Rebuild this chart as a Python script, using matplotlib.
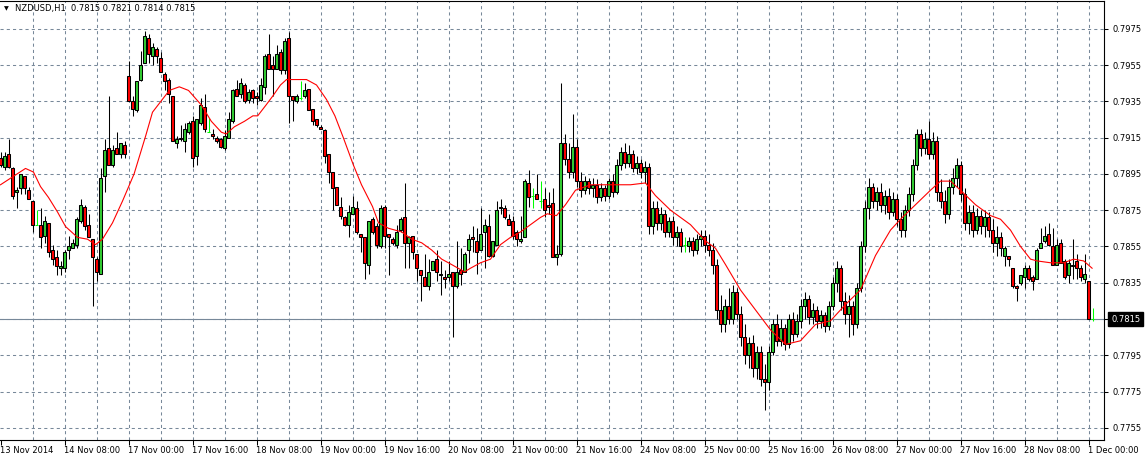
import matplotlib
matplotlib.use("Agg")
import matplotlib.pyplot as plt
import matplotlib.transforms as mtransforms
import numpy as np

# NZDUSD H1, one value per hourly bar (13 Nov 16:00 .. 1 Dec 01:00)
opens = [
    0.7904, 0.7899, 0.7906, 0.7898, 0.7885, 0.7887, 0.7894, 0.7886, 0.7880, 0.7867,
    0.7867, 0.7861, 0.7868, 0.7853, 0.7849, 0.7843, 0.7843, 0.7853, 0.7854, 0.7856,
    0.7869, 0.7877, 0.7867, 0.7859, 0.7848, 0.7840, 0.7894, 0.7909, 0.7900, 0.7909,
    0.7906, 0.7911, 0.7949, 0.7935, 0.7930, 0.7947, 0.7956, 0.7970, 0.7960, 0.7964,
    0.7959, 0.7950, 0.7947, 0.7938, 0.7912, 0.7915, 0.7913, 0.7918, 0.7924, 0.7905,
    0.7923, 0.7932, 0.7918, 0.7917, 0.7915, 0.7914, 0.7909, 0.7915, 0.7924, 0.7942,
    0.7939, 0.7944, 0.7936, 0.7941, 0.7938, 0.7936, 0.7943, 0.7961, 0.7955, 0.7953,
    0.7962, 0.7952, 0.7970, 0.7938, 0.7935, 0.7937, 0.7938, 0.7942, 0.7931, 0.7925,
    0.7921, 0.7919, 0.7906, 0.7896, 0.7888, 0.7877, 0.7871, 0.7867, 0.7873, 0.7876,
    0.7862, 0.7860, 0.7845, 0.7870, 0.7866, 0.7855, 0.7877, 0.7862, 0.7859, 0.7856,
    0.7864, 0.7871, 0.7857, 0.7861, 0.7851, 0.7842, 0.7838, 0.7833, 0.7842, 0.7848,
    0.7839, 0.7838, 0.7838, 0.7841, 0.7833, 0.7842, 0.7841, 0.7853, 0.7860, 0.7858,
    0.7853, 0.7863, 0.7866, 0.7850, 0.7856, 0.7876, 0.7876, 0.7870, 0.7869, 0.7863,
    0.7858, 0.7860, 0.7890, 0.7883, 0.7884, 0.7880, 0.7881, 0.7878, 0.7879, 0.7849,
    0.7851, 0.7912, 0.7903, 0.7896, 0.7910, 0.7891, 0.7886, 0.7891, 0.7887, 0.7889,
    0.7882, 0.7887, 0.7883, 0.7891, 0.7885, 0.7900, 0.7907, 0.7901, 0.7906, 0.7898,
    0.7901, 0.7896, 0.7899, 0.7866, 0.7876, 0.7868, 0.7873, 0.7863, 0.7869, 0.7860,
    0.7863, 0.7856, 0.7855, 0.7858, 0.7853, 0.7859, 0.7861, 0.7856, 0.7853, 0.7845,
    0.7820, 0.7812, 0.7822, 0.7815, 0.7830, 0.7818, 0.7805, 0.7795, 0.7802, 0.7788,
    0.7797, 0.7782, 0.7780, 0.7797, 0.7812, 0.7803, 0.7810, 0.7801, 0.7815, 0.7807,
    0.7814, 0.7822, 0.7826, 0.7816, 0.7820, 0.7814, 0.7817, 0.7811, 0.7822, 0.7835,
    0.7843, 0.7825, 0.7818, 0.7822, 0.7812, 0.7832, 0.7855, 0.7876, 0.7888, 0.7880,
    0.7885, 0.7878, 0.7883, 0.7874, 0.7881, 0.7870, 0.7864, 0.7875, 0.7884, 0.7900,
    0.7917, 0.7909, 0.7914, 0.7906, 0.7913, 0.7885, 0.7880, 0.7873, 0.7888, 0.7893,
    0.7900, 0.7884, 0.7868, 0.7874, 0.7864, 0.7872, 0.7866, 0.7871, 0.7864, 0.7857,
    0.7860, 0.7850, 0.7850, 0.7843, 0.7833, 0.7835, 0.7838, 0.7843, 0.7838, 0.7837,
    0.7854, 0.7858, 0.7862, 0.7855, 0.7845, 0.7857, 0.7847, 0.7839, 0.7844, 0.7847,
    0.7843, 0.7837, 0.7836, 0.7815,
]
highs = [
    0.7907, 0.7907, 0.7914, 0.7899, 0.7888, 0.7895, 0.7894, 0.7888, 0.7880, 0.7875,
    0.7876, 0.7872, 0.7868, 0.7856, 0.7853, 0.7847, 0.7853, 0.7861, 0.7859, 0.7871,
    0.7881, 0.7878, 0.7873, 0.7859, 0.7849, 0.7898, 0.7914, 0.7938, 0.7911, 0.7918,
    0.7912, 0.7913, 0.7957, 0.7938, 0.7946, 0.7963, 0.7974, 0.7972, 0.7967, 0.7965,
    0.7962, 0.7951, 0.7948, 0.7938, 0.7916, 0.7922, 0.7923, 0.7924, 0.7927, 0.7925,
    0.7937, 0.7939, 0.7926, 0.7920, 0.7916, 0.7915, 0.7919, 0.7929, 0.7942, 0.7947,
    0.7948, 0.7945, 0.7942, 0.7942, 0.7940, 0.7948, 0.7961, 0.7972, 0.7960, 0.7966,
    0.7964, 0.7970, 0.7973, 0.7938, 0.7939, 0.7946, 0.7945, 0.7942, 0.7931, 0.7925,
    0.7922, 0.7920, 0.7906, 0.7896, 0.7888, 0.7882, 0.7872, 0.7878, 0.7883, 0.7880,
    0.7862, 0.7860, 0.7869, 0.7871, 0.7868, 0.7878, 0.7878, 0.7862, 0.7860, 0.7867,
    0.7871, 0.7890, 0.7861, 0.7861, 0.7851, 0.7842, 0.7851, 0.7848, 0.7847, 0.7853,
    0.7847, 0.7842, 0.7847, 0.7841, 0.7858, 0.7854, 0.7852, 0.7862, 0.7866, 0.7865,
    0.7876, 0.7870, 0.7873, 0.7858, 0.7880, 0.7881, 0.7878, 0.7873, 0.7872, 0.7864,
    0.7872, 0.7892, 0.7897, 0.7887, 0.7895, 0.7891, 0.7887, 0.7885, 0.7887, 0.7856,
    0.7945, 0.7917, 0.7912, 0.7928, 0.7914, 0.7896, 0.7894, 0.7893, 0.7893, 0.7892,
    0.7890, 0.7889, 0.7893, 0.7895, 0.7903, 0.7910, 0.7912, 0.7911, 0.7908, 0.7905,
    0.7903, 0.7902, 0.7901, 0.7880, 0.7880, 0.7877, 0.7875, 0.7871, 0.7872, 0.7866,
    0.7865, 0.7860, 0.7860, 0.7860, 0.7862, 0.7864, 0.7864, 0.7862, 0.7857, 0.7848,
    0.7828, 0.7826, 0.7832, 0.7834, 0.7832, 0.7822, 0.7812, 0.7805, 0.7806, 0.7800,
    0.7800, 0.7790, 0.7800, 0.7815, 0.7818, 0.7815, 0.7812, 0.7818, 0.7819, 0.7818,
    0.7826, 0.7830, 0.7828, 0.7824, 0.7822, 0.7820, 0.7819, 0.7825, 0.7838, 0.7847,
    0.7845, 0.7830, 0.7828, 0.7825, 0.7835, 0.7858, 0.7880, 0.7893, 0.7890, 0.7888,
    0.7890, 0.7886, 0.7887, 0.7885, 0.7884, 0.7874, 0.7878, 0.7888, 0.7903, 0.7920,
    0.7920, 0.7918, 0.7924, 0.7918, 0.7916, 0.7892, 0.7886, 0.7892, 0.7898, 0.7904,
    0.7902, 0.7887, 0.7878, 0.7878, 0.7876, 0.7875, 0.7875, 0.7874, 0.7870, 0.7866,
    0.7863, 0.7855, 0.7850, 0.7843, 0.7834, 0.7839, 0.7845, 0.7845, 0.7839, 0.7854,
    0.7865, 0.7866, 0.7868, 0.7865, 0.7859, 0.7859, 0.7848, 0.7848, 0.7859, 0.7851,
    0.7845, 0.7851, 0.7836, 0.7821,
]
lows = [
    0.7899, 0.7897, 0.7898, 0.7881, 0.7876, 0.7884, 0.7884, 0.7881, 0.7863, 0.7867,
    0.7854, 0.7857, 0.7849, 0.7845, 0.7839, 0.7839, 0.7841, 0.7848, 0.7854, 0.7854,
    0.7868, 0.7864, 0.7860, 0.7822, 0.7836, 0.7840, 0.7885, 0.7900, 0.7899, 0.7906,
    0.7904, 0.7904, 0.7935, 0.7927, 0.7929, 0.7946, 0.7956, 0.7956, 0.7955, 0.7956,
    0.7951, 0.7941, 0.7934, 0.7913, 0.7909, 0.7913, 0.7907, 0.7917, 0.7899, 0.7900,
    0.7922, 0.7918, 0.7918, 0.7914, 0.7912, 0.7909, 0.7908, 0.7915, 0.7923, 0.7938,
    0.7937, 0.7934, 0.7934, 0.7934, 0.7933, 0.7935, 0.7939, 0.7953, 0.7938, 0.7953,
    0.7950, 0.7950, 0.7923, 0.7924, 0.7934, 0.7936, 0.7937, 0.7930, 0.7922, 0.7921,
    0.7920, 0.7901, 0.7890, 0.7875, 0.7878, 0.7870, 0.7866, 0.7860, 0.7873, 0.7862,
    0.7852, 0.7837, 0.7840, 0.7862, 0.7854, 0.7854, 0.7854, 0.7839, 0.7856, 0.7854,
    0.7863, 0.7843, 0.7843, 0.7848, 0.7836, 0.7825, 0.7833, 0.7831, 0.7842, 0.7836,
    0.7828, 0.7832, 0.7836, 0.7805, 0.7832, 0.7834, 0.7841, 0.7846, 0.7852, 0.7840,
    0.7853, 0.7843, 0.7849, 0.7849, 0.7856, 0.7873, 0.7870, 0.7867, 0.7859, 0.7855,
    0.7857, 0.7860, 0.7877, 0.7876, 0.7881, 0.7876, 0.7871, 0.7873, 0.7849, 0.7845,
    0.7850, 0.7900, 0.7893, 0.7893, 0.7888, 0.7882, 0.7884, 0.7884, 0.7882, 0.7879,
    0.7880, 0.7880, 0.7881, 0.7882, 0.7884, 0.7897, 0.7898, 0.7899, 0.7896, 0.7895,
    0.7893, 0.7890, 0.7862, 0.7862, 0.7864, 0.7864, 0.7860, 0.7860, 0.7856, 0.7855,
    0.7852, 0.7852, 0.7852, 0.7850, 0.7851, 0.7855, 0.7852, 0.7850, 0.7840, 0.7815,
    0.7808, 0.7808, 0.7812, 0.7812, 0.7815, 0.7800, 0.7790, 0.7788, 0.7783, 0.7782,
    0.7778, 0.7765, 0.7776, 0.7795, 0.7800, 0.7800, 0.7798, 0.7799, 0.7803, 0.7805,
    0.7810, 0.7815, 0.7812, 0.7812, 0.7810, 0.7810, 0.7808, 0.7809, 0.7820, 0.7830,
    0.7820, 0.7812, 0.7805, 0.7806, 0.7810, 0.7830, 0.7852, 0.7870, 0.7876, 0.7875,
    0.7874, 0.7873, 0.7870, 0.7872, 0.7866, 0.7860, 0.7860, 0.7872, 0.7880, 0.7897,
    0.7905, 0.7906, 0.7903, 0.7903, 0.7880, 0.7876, 0.7868, 0.7870, 0.7884, 0.7888,
    0.7880, 0.7864, 0.7862, 0.7860, 0.7862, 0.7862, 0.7860, 0.7860, 0.7852, 0.7850,
    0.7850, 0.7844, 0.7844, 0.7832, 0.7825, 0.7834, 0.7832, 0.7836, 0.7831, 0.7837,
    0.7854, 0.7857, 0.7855, 0.7845, 0.7845, 0.7846, 0.7837, 0.7835, 0.7837, 0.7837,
    0.7836, 0.7835, 0.7815, 0.7814,
]
closes = [
    0.7900, 0.7905, 0.7899, 0.7883, 0.7886, 0.7895, 0.7887, 0.7881, 0.7867, 0.7867,
    0.7860, 0.7869, 0.7852, 0.7848, 0.7844, 0.7844, 0.7852, 0.7855, 0.7857, 0.7870,
    0.7878, 0.7866, 0.7860, 0.7849, 0.7841, 0.7893, 0.7908, 0.7900, 0.7908, 0.7906,
    0.7912, 0.7906, 0.7935, 0.7931, 0.7946, 0.7955, 0.7971, 0.7961, 0.7965, 0.7960,
    0.7951, 0.7946, 0.7939, 0.7913, 0.7914, 0.7914, 0.7920, 0.7923, 0.7904, 0.7925,
    0.7933, 0.7920, 0.7918, 0.7916, 0.7913, 0.7910, 0.7916, 0.7925, 0.7941, 0.7938,
    0.7945, 0.7935, 0.7940, 0.7937, 0.7937, 0.7944, 0.7960, 0.7953, 0.7953, 0.7961,
    0.7952, 0.7968, 0.7938, 0.7936, 0.7938, 0.7937, 0.7941, 0.7930, 0.7924, 0.7922,
    0.7920, 0.7905, 0.7896, 0.7887, 0.7878, 0.7872, 0.7867, 0.7874, 0.7877, 0.7863,
    0.7860, 0.7846, 0.7869, 0.7863, 0.7856, 0.7876, 0.7861, 0.7860, 0.7857, 0.7863,
    0.7870, 0.7857, 0.7860, 0.7852, 0.7843, 0.7839, 0.7833, 0.7841, 0.7847, 0.7841,
    0.7840, 0.7837, 0.7840, 0.7833, 0.7841, 0.7840, 0.7851, 0.7859, 0.7859, 0.7852,
    0.7862, 0.7867, 0.7850, 0.7858, 0.7875, 0.7877, 0.7871, 0.7867, 0.7861, 0.7859,
    0.7859, 0.7891, 0.7882, 0.7883, 0.7881, 0.7880, 0.7875, 0.7877, 0.7849, 0.7851,
    0.7912, 0.7903, 0.7896, 0.7910, 0.7891, 0.7886, 0.7891, 0.7887, 0.7889, 0.7882,
    0.7887, 0.7883, 0.7891, 0.7885, 0.7900, 0.7907, 0.7901, 0.7906, 0.7898, 0.7901,
    0.7896, 0.7899, 0.7866, 0.7876, 0.7868, 0.7873, 0.7863, 0.7869, 0.7860, 0.7863,
    0.7855, 0.7856, 0.7858, 0.7853, 0.7859, 0.7861, 0.7856, 0.7853, 0.7845, 0.7820,
    0.7812, 0.7822, 0.7815, 0.7830, 0.7818, 0.7805, 0.7795, 0.7802, 0.7788, 0.7797,
    0.7782, 0.7780, 0.7797, 0.7812, 0.7803, 0.7810, 0.7801, 0.7815, 0.7807, 0.7814,
    0.7822, 0.7826, 0.7816, 0.7820, 0.7814, 0.7817, 0.7811, 0.7822, 0.7835, 0.7843,
    0.7825, 0.7818, 0.7822, 0.7812, 0.7832, 0.7855, 0.7876, 0.7888, 0.7880, 0.7885,
    0.7878, 0.7883, 0.7874, 0.7881, 0.7870, 0.7864, 0.7875, 0.7884, 0.7900, 0.7917,
    0.7909, 0.7914, 0.7906, 0.7913, 0.7885, 0.7880, 0.7873, 0.7888, 0.7893, 0.7900,
    0.7884, 0.7868, 0.7874, 0.7864, 0.7872, 0.7866, 0.7871, 0.7864, 0.7857, 0.7860,
    0.7854, 0.7854, 0.7848, 0.7833, 0.7832, 0.7839, 0.7843, 0.7837, 0.7836, 0.7853,
    0.7857, 0.7861, 0.7856, 0.7845, 0.7856, 0.7846, 0.7838, 0.7846, 0.7845, 0.7843,
    0.7838, 0.7840, 0.7815, 0.7815,
]

# red moving average (bar index, price)
ma_bar = [0, 6.25, 8.25, 10, 12, 14.25, 16.25, 19.25, 21.75, 23.75, 25.5, 28, 30.5,
          33.4, 36.3, 38, 40.1, 42.2, 44.7, 47, 50.2, 52.7, 55.2, 56.4, 58.5, 61,
          63.1, 64.3, 66.4, 68.1, 70, 71.5, 76.5, 79, 81.5, 83.6, 85.7, 88.2, 90.25,
          93, 94.5, 97, 100.3, 102.8, 105.3, 107.8, 110.3, 112.8, 116, 117.5, 120,
          122.5, 125, 127.5, 130, 132.5, 135, 136.7, 139, 141.25, 143.75, 147.5,
          152.5, 157.5, 161.25, 163.75, 167.5, 172.5, 176.25, 178.75, 181.25, 185,
          188.75, 192.5, 196.25, 200, 203.75, 207.5, 211.25, 215, 218.75, 222.5, 225,
          228.75, 232.5, 235, 237.5, 240, 243.75, 247.5, 250, 252.5, 255, 257.5,
          259.2, 262.5, 265.8, 268.3, 270.8, 272.9]
ma_price = [0.7889, 0.7898, 0.7896, 0.7888, 0.7882, 0.7874, 0.7866, 0.7860, 0.7859,
            0.7856, 0.7859, 0.7868, 0.7880, 0.7895, 0.7916, 0.7929, 0.7935, 0.7941,
            0.7943, 0.7941, 0.7933, 0.7924, 0.7918, 0.7917, 0.7921, 0.7924, 0.7927,
            0.7927, 0.7933, 0.7938, 0.7944, 0.7947, 0.7947, 0.7944, 0.7936, 0.7927,
            0.7915, 0.7900, 0.7889, 0.7877, 0.7868, 0.7865, 0.7863, 0.7859, 0.7857,
            0.7853, 0.7848, 0.7845, 0.7841, 0.7843, 0.7846, 0.7848, 0.7856, 0.7860,
            0.7863, 0.7867, 0.7871, 0.7873, 0.7872, 0.7878, 0.7886, 0.7889, 0.7889,
            0.7889, 0.7890, 0.7883, 0.7875, 0.7867, 0.7858, 0.7854, 0.7845, 0.7831,
            0.7820, 0.7809, 0.7801, 0.7803, 0.7812, 0.7814, 0.7823, 0.7831, 0.7850,
            0.7864, 0.7870, 0.7878, 0.7886, 0.7891, 0.7891, 0.7886, 0.7878, 0.7872,
            0.7870, 0.7864, 0.7855, 0.7848, 0.7847, 0.7846, 0.7846, 0.7848, 0.7847,
            0.7843]

time_labels = ["13 Nov 2014", "14 Nov 08:00", "17 Nov 00:00", "17 Nov 16:00",
               "18 Nov 08:00", "19 Nov 00:00", "19 Nov 16:00", "20 Nov 08:00",
               "21 Nov 00:00", "21 Nov 16:00", "24 Nov 08:00", "25 Nov 00:00",
               "25 Nov 16:00", "26 Nov 08:00", "27 Nov 00:00", "27 Nov 16:00",
               "28 Nov 08:00", "1 Dec 00:00"]
price_levels = [0.7755, 0.7775, 0.7795, 0.7815, 0.7835, 0.7855, 0.7875, 0.7895,
                0.7915, 0.7935, 0.7955, 0.7975]
last_price = 0.7815
header = "NZDUSD,H1  0.7815 0.7821 0.7814 0.7815"

o = np.array(opens); h = np.array(highs); l = np.array(lows); c = np.array(closes)
x = np.arange(len(o))

W, H = 1146, 458
fig = plt.figure(figsize=(W / 100, H / 100), dpi=100)
fig.patch.set_facecolor("white")
ax = fig.add_axes([0, 18 / H, 1104 / W, 439 / H])
ax.set_facecolor("white")

grid_col = "#778899"
font = "DejaVu Sans"

ax.set_xlim(-0.125, 275.875)
ax.set_ylim(0.77483, 0.79903)

# grid
for gx in range(8, 276, 8):
    ax.axvline(gx, color=grid_col, lw=0.75, ls=(0, (3, 3)), zorder=0)
for py in price_levels:
    ax.axhline(py, color=grid_col, lw=0.75, ls=(0, (3, 3)), zorder=0)

# current price line
ax.plot([-0.125, 277.5], [last_price, last_price], color=grid_col, lw=0.8,
        zorder=1, clip_on=False)

doji = o == c
up = (c > o) & ~doji
dn = (c < o) & ~doji

ax.vlines(x[~doji], l[~doji], h[~doji], color="black", lw=0.75, zorder=2)
ax.bar(x[up], (c - o)[up], bottom=o[up], width=0.55, color="#32cd32",
       edgecolor="black", linewidth=0.75, zorder=3)
ax.bar(x[dn], (o - c)[dn], bottom=c[dn], width=0.55, color="#ff0000",
       edgecolor="black", linewidth=0.75, zorder=3)
ax.vlines(x[doji], l[doji], h[doji], color="#00ff00", lw=0.75, zorder=3)
ax.hlines(o[doji], x[doji] - 0.35, x[doji] + 0.35, color="#00ff00", lw=0.75, zorder=3)

ax.plot(ma_bar, ma_price, color="red", lw=0.8, zorder=4)

# axes cosmetics
for s in ["top", "right", "bottom"]:
    ax.spines[s].set_color("black")
    ax.spines[s].set_linewidth(0.8)
ax.spines["left"].set_visible(False)

ax.set_xticks(np.arange(0, 273, 16))
ax.set_xticklabels(time_labels, fontsize=6, family=font)
for lab in ax.get_xticklabels():
    lab.set_horizontalalignment("left")
ax.tick_params(axis="x", direction="out", length=3.5, width=0.75, pad=1, colors="black")

ax.yaxis.tick_right()
ax.set_yticks(price_levels)
ax.set_yticklabels(["" if abs(p - last_price) < 1e-9 else "%.4f" % p for p in price_levels],
                   fontsize=6, family=font)
ax.tick_params(axis="y", direction="out", length=3, width=0.75, pad=3, colors="black")

trans = mtransforms.blended_transform_factory(ax.transAxes, ax.transData)
ax.text(1111 / 1104, last_price, "%.4f" % last_price, transform=trans, ha="left",
        va="center", fontsize=6, family=font, color="white", zorder=10, clip_on=False,
        bbox=dict(boxstyle="square,pad=0.35", facecolor="black", edgecolor="black"))

fig.text(4 / W, 1 - 8.5 / H, "\u25bc", fontsize=4.5, family=font, ha="left",
         va="center", color="black")
fig.text(15 / W, 1 - 8.5 / H, header, fontsize=6, family=font, ha="left",
         va="center", color="black")

fig.savefig("out.png", dpi=100)
